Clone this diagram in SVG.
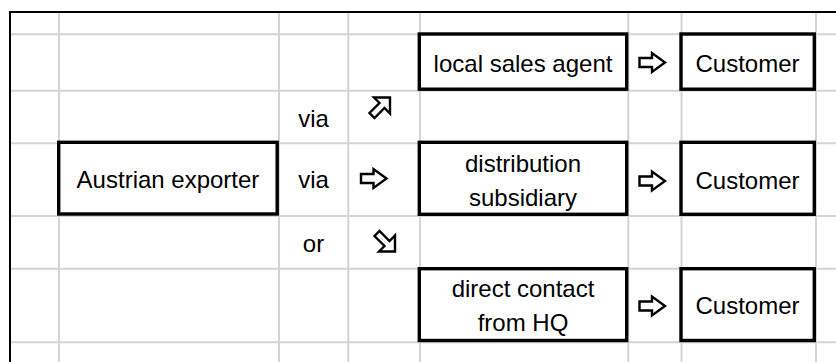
<svg xmlns="http://www.w3.org/2000/svg" xmlns:xlink="http://www.w3.org/1999/xlink" width="836" height="362" viewBox="0 0 836 362">
<style>
.grid{stroke:#d4d4d4;stroke-width:2;fill:none}
.border{stroke:#000;stroke-width:2;fill:none}
.box{fill:#fff;stroke:#000;stroke-width:3.4}
.t{font-family:"Liberation Sans",Arial,sans-serif;font-size:24px;fill:#000;text-anchor:middle}
.arr{fill:#fff;stroke:#000;stroke-width:2.4;stroke-linejoin:miter}
</style>
<defs>
<path id="ar" class="arr" d="M-12.5,-4.5 H0 V-9.5 L13,0 L0,9.5 V4.5 H-12.5 Z"/>
<path id="dg" class="arr" d="M0,0 L-16,0 L-10.5,5.5 L-20.5,15.5 L-15.5,20.5 L-5.5,10.5 L0,16 Z"/>
</defs>
<rect width="836" height="362" fill="#fff"/>
<g id="grid">
<path class="grid" d="M10,34.3H836M10,90.7H836M10,143.3H836M10,216H836M10,268.7H836M10,342.3H836"/>
<path class="grid" d="M59,12V362M279,12V362M348.3,12V362M420,12V362M628.3,12V362M681.5,12V362M816,12V362"/>
<path class="border" d="M10,362V12H836"/>
</g>
<g id="connectors">
<use xlink:href="#dg" transform="translate(390,97.5)"/>
<use xlink:href="#ar" transform="translate(373.5,178.5)"/>
<use xlink:href="#dg" transform="translate(395,251.5) scale(1,-1)"/>
<use xlink:href="#ar" transform="translate(652,62.5)"/>
<use xlink:href="#ar" transform="translate(652,181)"/>
<use xlink:href="#ar" transform="translate(652,306)"/>
</g>
<g id="labels">
<text class="t" x="313.5" y="127">via</text>
<text class="t" x="313.5" y="188">via</text>
<text class="t" x="313.5" y="252">or</text>
</g>
<g id="exporter">
<rect class="box" x="58.7" y="142.3" width="218.5" height="71.7"/>
<text class="t" x="168" y="188">Austrian exporter</text>
</g>
<g id="agent">
<rect class="box" x="419.3" y="34" width="207.4" height="55.2"/>
<text class="t" x="523" y="72">local sales agent</text>
</g>
<g id="subsidiary">
<rect class="box" x="419.3" y="142.3" width="207.4" height="72"/>
<text class="t" x="523" y="172">distribution</text>
<text class="t" x="523" y="206">subsidiary</text>
</g>
<g id="direct">
<rect class="box" x="419.3" y="268.7" width="207.4" height="71.8"/>
<text class="t" x="523" y="297">direct contact</text>
<text class="t" x="523" y="331">from HQ</text>
</g>
<g id="customer1">
<rect class="box" x="681" y="34" width="133.3" height="55.2"/>
<text class="t" x="747.5" y="72">Customer</text>
</g>
<g id="customer2">
<rect class="box" x="681" y="142.3" width="133.3" height="72"/>
<text class="t" x="747.5" y="189">Customer</text>
</g>
<g id="customer3">
<rect class="box" x="681" y="268.7" width="133.3" height="71.8"/>
<text class="t" x="747.5" y="314">Customer</text>
</g>
</svg>
